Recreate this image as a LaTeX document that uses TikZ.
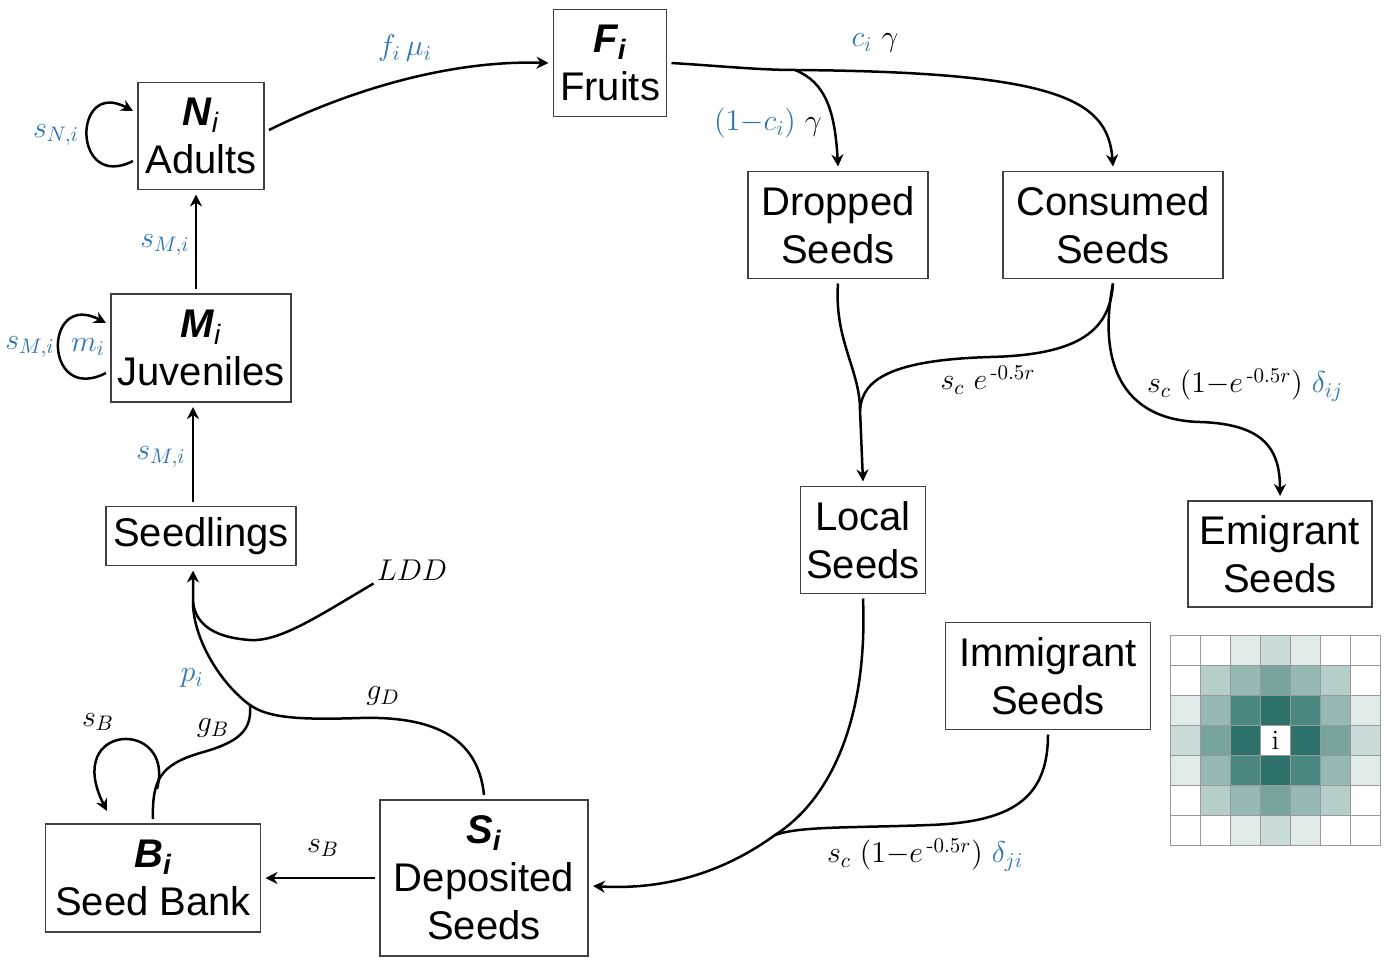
\RequirePackage{fix-cm}
\documentclass[tikz,border=0pt]{standalone}
\usepackage{amsmath}
\usepackage{fontspec}
\usetikzlibrary{arrows.meta}
\newfontfamily\boxfont{Liberation Sans}
\definecolor{lblue}{RGB}{46,117,182}
\definecolor{gridteal}{RGB}{45,115,108}
\begin{document}
\begin{tikzpicture}[
        x=0.5pt, y=-0.5pt,
        line width=1.25pt
    ]
    \tikzset{
        box/.style = {rectangle, draw=black!75, line width=0.6pt, align=center, inner sep=1pt, outer sep=2.5pt,
                      font=\boxfont\fontsize{20}{24}\selectfont},
        flow/.style = {-{Stealth[length=6pt,width=6pt]}, line width=1.25pt},
        link/.style = {-, line width=1.25pt},
        lab/.style = {font=\fontsize{15}{18}\selectfont, inner sep=1pt},
        labb/.style = {lab, text=lblue},
        cell/.style = {draw=black!40, line width=0.5pt},
    }
    \useasboundingbox (0,0) rectangle (1387,963);
    \node[box, minimum width=56.5pt, minimum height=53.5pt] at (610,63) (fruit) {{\bfseries\itshape F\textsubscript{i}}\\Fruits};
    \node[box, minimum width=63pt, minimum height=53.5pt] at (201,136) (adult) {{\bfseries\itshape N}\textsubscript{\itshape i}\\Adults};
    \node[box, minimum width=90pt, minimum height=54pt] at (201,348) (juv) {{\bfseries\itshape M}\textsubscript{\itshape i}\\Juveniles};
    \node[box, minimum width=95pt, minimum height=29.5pt] at (201,536) (seed) {Seedlings};
    \node[box, minimum width=90pt, minimum height=53.5pt] at (838,225) (drop) {Dropped\\Seeds};
    \node[box, minimum width=110pt, minimum height=53.5pt] at (1113,225) (cons) {Consumed\\Seeds};
    \node[box, minimum width=62.5pt, minimum height=53.5pt] at (863,540) (local) {Local\\Seeds};
    \node[box, minimum width=92pt, minimum height=53pt] at (1280,554) (emig) {Emigrant\\Seeds};
    \node[box, minimum width=102.5pt, minimum height=53.5pt] at (1048,676) (imm) {Immigrant\\Seeds};
    \node[box, minimum width=107.5pt, minimum height=54pt] at (153,878) (bank) {{\bfseries\itshape B\textsubscript{i}}\\Seed Bank};
    \node[box, minimum width=104pt, minimum height=78pt] at (484,878) (dep) {{\bfseries\itshape S\textsubscript{i}}\\Deposited\\Seeds};
    %
    \coordinate (fsplit) at (795,70);
    \coordinate (dlocal) at (860,410);
    \coordinate (sjoin) at (250,705);
    \coordinate (ljoin) at (193,602);
    \coordinate (ijoin) at (775,835);
    %
    \node[labb] at (405,48) (lfm) {$f_i\,\mu_i$};
    \node[lab] at (875,43) (lcg) {$\color{lblue}c_i\ \color{black}\gamma$};
    \node[lab] at (768,123) (ldg) {$\color{lblue}(1{-}c_i)\ \color{black}\gamma$};
    \node[labb] at (56,135) (lsn) {$s_{N,i}$};
    \node[labb] at (165,245) (lsm) {$s_{M,i}$};
    \node[labb] at (30,347) (lsmm) {$s_{M,i}$};
    \node[labb] at (88,347) (lm) {$m_i$};
    \node[labb] at (161,457) (lss) {$s_{M,i}$};
    \node[lab] at (988,380) (lloc) {$s_c\ e^{\,\text{-}0.5r}$};
    \node[lab] at (1245,385) (lemi) {$s_c\ (1{-}e^{\,\text{-}0.5r})\ \color{lblue}\delta_{ij}$};
    \node[lab] at (925,855) (limm) {$s_c\ (1{-}e^{\,\text{-}0.5r})\ \color{lblue}\delta_{ji}$};
    \node[lab] at (412,570) (ldd) {$LDD$};
    \node[labb] at (192,678) (lp) {$p_i$};
    \node[lab] at (213,728) (lgb) {$g_B$};
    \node[lab] at (383,696) (lgd) {$g_D$};
    \node[lab] at (98,722) (lsb) {$s_B$};
    \node[lab] at (323,848) (lsbb) {$s_B$};
    %
    \draw[flow] ([yshift=3pt]adult.east) .. controls (350,90) and (450,60) .. (fruit.west);
    \draw[flow] (fruit.east) .. controls (720,66) and (760,70) .. (fsplit) .. controls (1060,72) and (1108,100) .. (cons.north);
    \draw[flow] (fsplit) .. controls (825,82) and (835,110) .. (drop.north);
    \draw[flow] (drop.south) .. controls (834,340) and (860,370) .. (dlocal) -- (local.north);
    \draw[link] (cons.south) .. controls (1110,330) and (1080,355) .. (990,357) .. controls (890,360) and (862,380) .. (dlocal);
    \draw[flow] (cons.south) .. controls (1098,360) and (1120,420) .. (1200,422) .. controls (1265,424) and (1280,450) .. (emig.north);
    %
    \draw[flow] ([yshift=-12.5pt]adult.west) .. controls (72,192) and (72,78) .. ([yshift=12.5pt]adult.west);
    \draw[flow] ([yshift=-12.5pt]juv.west) .. controls (43,405) and (43,290) .. ([yshift=12.5pt]juv.west);
    \draw[flow] ([xshift=-2.5pt]juv.north) -- ([xshift=-2.5pt]adult.south);
    \draw[flow] ([xshift=-4pt]seed.north) -- ([xshift=-4pt]juv.south);
    %
    \draw[flow] (dep.north) .. controls (478,735) and (430,716) .. (360,718) .. controls (300,720) and (268,718) .. (sjoin) .. controls (222,685) and (193,640) .. (ljoin) -- ([xshift=-4pt]seed.south);
    \draw[link] (bank.north) .. controls (152,780) and (160,765) .. (200,753) .. controls (240,742) and (252,730) .. (sjoin);
    \draw[link] (ldd.south west) .. controls (320,615) and (280,642) .. (250,640) .. controls (220,638) and (196,628) .. (ljoin);
    \draw[flow] ([xshift=2pt,yshift=15pt]bank.north) .. controls (176,718) and (62,722) .. ([xshift=-23pt,yshift=4pt]bank.north);
    \draw[flow] (dep.west) -- (bank.east);
    %
    \draw[flow] (local.south) .. controls (868,720) and (830,800) .. (ijoin) .. controls (720,875) and (660,890) .. ([yshift=-4pt]dep.east);
    \draw[link] (imm.south) .. controls (1048,800) and (1010,822) .. (930,825) .. controls (850,828) and (800,826) .. (ijoin);
    %
    \foreach \r in {0,...,6} {
        \foreach \c in {0,...,6} {
            \pgfmathtruncatemacro{\dd}{(\c-3)*(\c-3)+(\r-3)*(\r-3)}
            \ifcase\dd \def\lvl{0}\or \def\lvl{100}\or \def\lvl{85}\or \def\lvl{0}\or \def\lvl{65}\or
                \def\lvl{50}\or \def\lvl{0}\or \def\lvl{0}\or \def\lvl{35}\or \def\lvl{25}\or
                \def\lvl{15}\else \def\lvl{0}\fi
            \fill[gridteal!\lvl!white] (1170+\c*30.1,635+\r*30) rectangle ++(30.1,30);
        }
    }
    \foreach \k in {0,...,7} {
        \draw[cell] (1170+\k*30.1,635) -- (1170+\k*30.1,845);
        \draw[cell] (1170,635+\k*30) -- (1381,635+\k*30);
    }
    \node[font=\fontsize{14}{16}\selectfont, inner sep=0pt] at (1275.5,740) (celli) {i};
\end{tikzpicture}
\end{document}
